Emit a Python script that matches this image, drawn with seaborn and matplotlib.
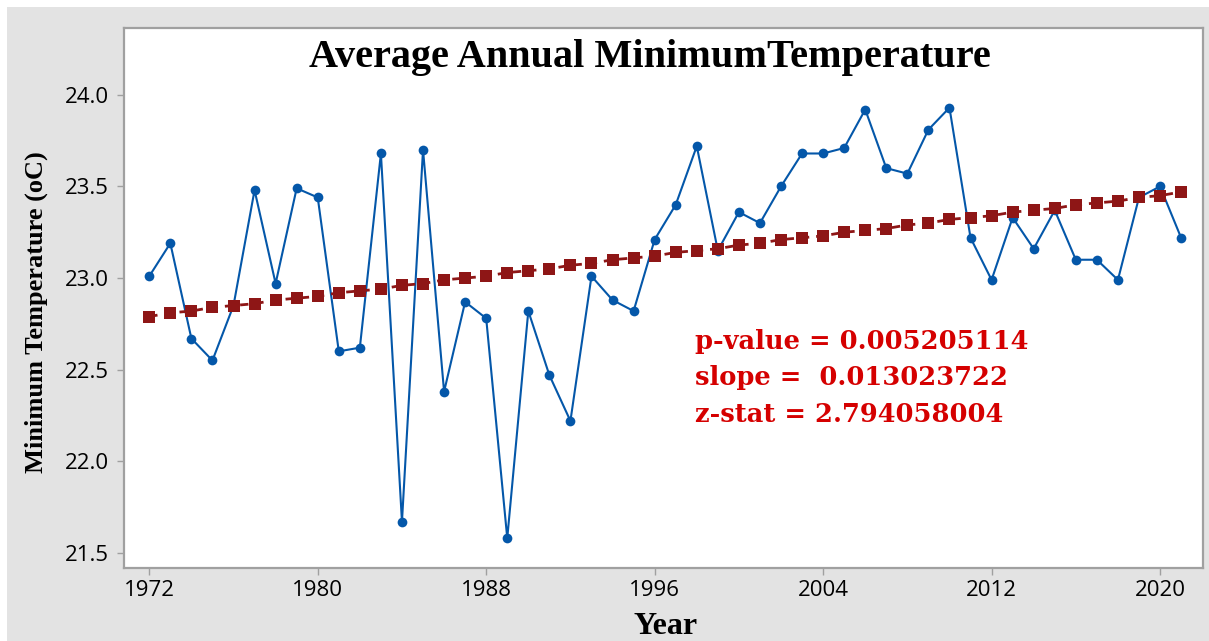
import matplotlib
matplotlib.use("Agg")
import matplotlib.pyplot as plt
import matplotlib.patches as mpatches
import seaborn as sns
import pandas as pd

years = list(range(1972, 2022))
min_temp = [23.01, 23.19, 22.67, 22.55, 22.85, 23.48, 22.97, 23.49, 23.44, 22.60,
            22.62, 23.68, 21.67, 23.70, 22.38, 22.87, 22.78, 21.58, 22.82, 22.47,
            22.22, 23.01, 22.88, 22.82, 23.21, 23.40, 23.72, 23.15, 23.36, 23.30,
            23.50, 23.68, 23.68, 23.71, 23.92, 23.60, 23.57, 23.81, 23.93, 23.22,
            22.99, 23.33, 23.16, 23.37, 23.10, 23.10, 22.99, 23.44, 23.50, 23.22]
trend = [22.79, 22.81, 22.82, 22.84, 22.85, 22.86, 22.88, 22.89, 22.90, 22.92,
         22.93, 22.94, 22.96, 22.97, 22.99, 23.00, 23.01, 23.03, 23.04, 23.05,
         23.07, 23.08, 23.10, 23.11, 23.12, 23.14, 23.15, 23.16, 23.18, 23.19,
         23.21, 23.22, 23.23, 23.25, 23.26, 23.27, 23.29, 23.30, 23.32, 23.33,
         23.34, 23.36, 23.37, 23.38, 23.40, 23.41, 23.42, 23.44, 23.45, 23.47]
x_ticks = [1972, 1980, 1988, 1996, 2004, 2012, 2020]
y_ticks = [21.5, 22.0, 22.5, 23.0, 23.5, 24.0]
title = "Average Annual MinimumTemperature"
stats_lines = ["p-value = 0.005205114", "slope =  0.013023722", "z-stat = 2.794058004"]

df = pd.DataFrame({"Year": years, "Temp": min_temp, "Trend": trend})

sns.set_style("white")
W, H = 1209, 641
fig = plt.figure(figsize=(W / 100, H / 100), dpi=100, facecolor="white")
fig.patches.append(mpatches.Rectangle((7 / W, 0), 1 - 7 / W, 1 - 7 / H,
                                      transform=fig.transFigure, facecolor="#e3e3e3",
                                      edgecolor="none", zorder=-10))
ax = fig.add_axes([124 / W, 1 - 567.5 / H, (1203 - 124) / W, (567.5 - 28) / H])
ax.set_facecolor("white")

sns.lineplot(data=df, x="Year", y="Temp", ax=ax, color="#0457a9", linewidth=1.5,
             marker="o", markersize=7, markeredgewidth=0, zorder=3)
sns.lineplot(data=df, x="Year", y="Trend", ax=ax, color="#8e1616", linewidth=2,
             linestyle=(0, (3, 2.5)), marker="s", markersize=8.5, markeredgewidth=0, zorder=4)

ax.set_xlim(1970.8, 2022.04)
ax.set_ylim(21.42, 24.365)
ax.set_xticks(x_ticks)
ax.set_yticks(y_ticks)
ax.set_yticklabels([f"{v:.1f}" for v in y_ticks])
ax.tick_params(axis="both", direction="out", length=5, width=1, color="#a0a0a0",
               labelsize=16, labelcolor="black", pad=4, left=True, bottom=True)
ax.tick_params(axis="y", pad=6)
for lab in ax.get_xticklabels() + ax.get_yticklabels():
    lab.set_family("Open Sans")
for sp in ax.spines.values():
    sp.set_color("#a0a0a0")
    sp.set_linewidth(1.6)
ax.set_xlabel("")
ax.set_ylabel("")

serif = "Liberation Serif"
fig.text(649.5 / W, 1 - 58 / H, title, ha="center", va="center",
         fontsize=29, fontweight="bold", family=serif, color="black")
fig.text(36 / W, 1 - 312 / H, "Minimum Temperature (oC)", ha="center", va="center",
         rotation=90, fontsize=19, fontweight="bold", family=serif, color="black")
fig.text(666 / W, 1 - 627 / H, "Year", ha="center", va="center",
         fontsize=23, fontweight="bold", family=serif, color="black")
for i, line in enumerate(stats_lines):
    fig.text(695 / W, 1 - (342 + i * 36) / H, line, ha="left", va="center",
             fontsize=18.5, fontweight="bold", family="DejaVu Serif", color="#d50000")

fig.savefig("out.png", dpi=100, facecolor="white")
